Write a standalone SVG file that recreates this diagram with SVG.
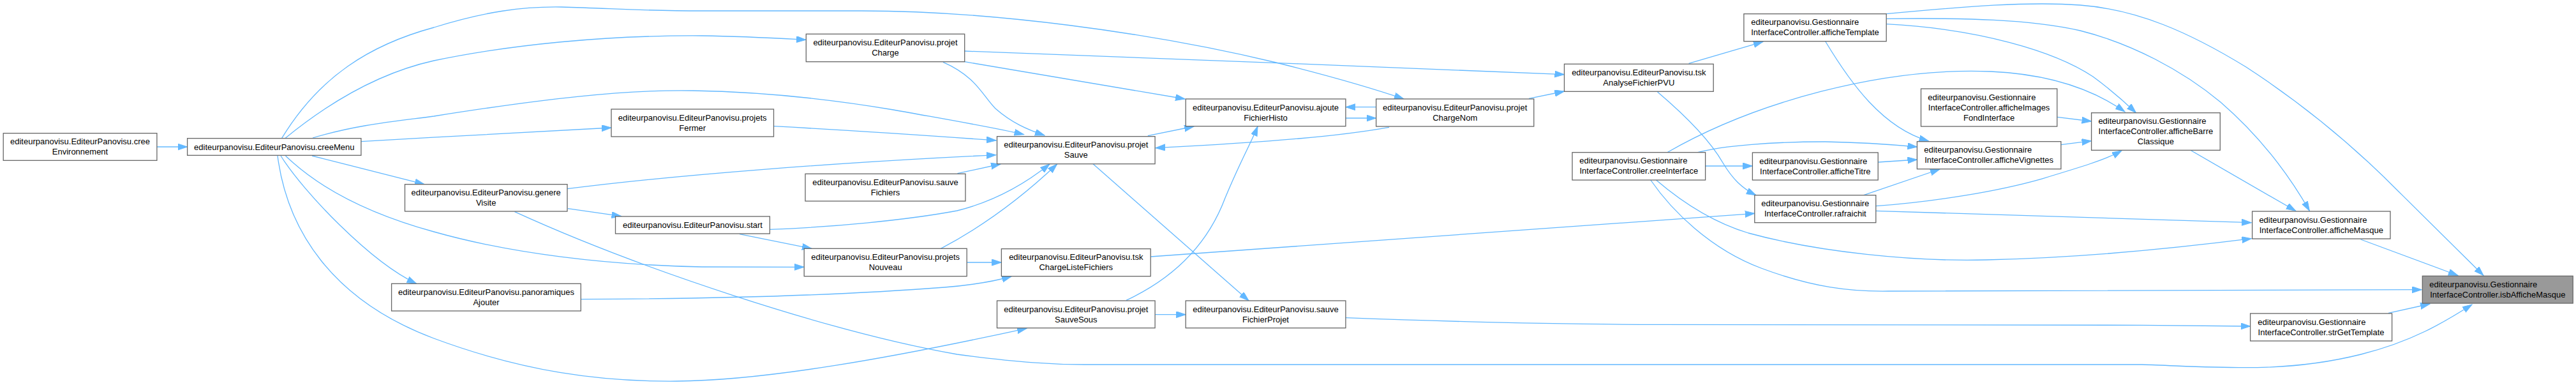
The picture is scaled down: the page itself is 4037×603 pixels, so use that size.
<svg xmlns="http://www.w3.org/2000/svg" width="4037" height="603" viewBox="0 0 4037 603">
<style>
.n rect{fill:#ffffff;stroke:#666666;stroke-width:1.3}
.hl rect{fill:#999999}
text{font-family:"Liberation Sans",Arial,Helvetica,sans-serif;font-size:13px;fill:#000000}
.m{text-anchor:middle}
.s{text-anchor:start}
#edges path{fill:none;stroke:#63b8ff;stroke-width:1.3;marker-end:url(#ah)}
</style>
<defs>
<marker id="ah" markerWidth="16" markerHeight="11" refX="15" refY="5" orient="auto" markerUnits="userSpaceOnUse">
<path d="M0,0 L15,5 L0,10 Z" fill="#63b8ff" stroke="#63b8ff" stroke-width="1"/>
</marker>
</defs>
<rect width="4037" height="603" fill="#ffffff"/>
<g id="edges">
<path d="M245.9,230 L293.6,230"/>
<path d="M441.5,216.7 C500,120 580,70 680,43 C760,18 820,10 880,11 C960,13 1000,17 1100,17 L1350,17 C1550,17 1800,50 2000,98 C2080,118 2150,138 2200,155"/>
<path d="M446.7,216.7 C510,165 590,115 680,95 C800,70 950,55 1100,56 C1170,57 1220,60 1263,62.3"/>
<path d="M490,216 C560,195 620,190 680,182 C850,155 980,140 1086,142 C1200,144 1300,155 1400,172 C1500,190 1560,200 1604.5,210.7"/>
<path d="M565.9,221.7 C700,214 850,205 958,200"/>
<path d="M489,244 L665,288.7"/>
<path d="M447.5,244 C490,285 560,330 680,363 C800,397 950,415 1100,418 L1260,418.3"/>
<path d="M440,244 C475,300 580,410 652.7,444.3"/>
<path d="M435,244 C450,360 520,470 680,530 C820,582 940,598 1060,597 C1200,596 1400,560 1609,514.3"/>
<path d="M1212.5,197.7 C1350,205 1450,212 1561,220"/>
<path d="M889,295.7 C1050,275 1300,255 1561,242.7"/>
<path d="M890,326.7 L973.6,338.7"/>
<path d="M806.6,331.7 C1000,420 1300,520 1500,555 C1600,568 1650,571 1700,571 L3357,571 C3480,575 3580,585 3700,555 C3780,535 3830,505 3874,477"/>
<path d="M1206.4,359.3 C1300,356 1420,345 1500,330 C1560,315 1610,285 1645,257"/>
<path d="M1159,366.7 L1272,389.3"/>
<path d="M1474.4,389.3 C1530,360 1590,320 1656.6,257"/>
<path d="M1515.2,411 L1569.4,411"/>
<path d="M1500.5,271.7 L1568,257"/>
<path d="M910.3,468.7 C1150,468 1350,460 1480,450 C1530,446 1560,440 1585,433"/>
<path d="M1478,97.3 C1530,120 1540,150 1560,170 C1585,192 1610,203 1637,212"/>
<path d="M1511.7,96.7 L1857,155"/>
<path d="M1511.7,80 C1800,92 2150,103 2451.5,116.7"/>
<path d="M1798.8,212.7 L1871,198"/>
<path d="M1713,256.7 L1957,471"/>
<path d="M2177,199.3 C2100,213 2000,222 1811,231.7"/>
<path d="M2108.9,185 L2156.6,185"/>
<path d="M2156.6,167.7 L2108.9,167.7"/>
<path d="M1765,470.3 C1830,440 1890,390 1920,310 C1945,250 1960,225 1971,198"/>
<path d="M1810.1,492.7 L1858.2,492.7"/>
<path d="M2396,154.3 L2451.5,143"/>
<path d="M2646.6,99.3 L2763,65.3"/>
<path d="M2597.6,144 C2640,180 2680,220 2700,255 C2715,280 2730,295 2752,305.7"/>
<path d="M2612.8,238.7 C2750,160 2950,105 3120,112 C3210,116 3280,140 3330,175"/>
<path d="M2660.5,238.7 C2700,228 2780,222 2860,222 C2920,223 2960,226 3004.4,230"/>
<path d="M2672.6,260 L2746.4,260"/>
<path d="M2595.5,282 C2640,320 2690,350 2740,365 C2850,395 3000,410 3113,407 C3250,404 3400,390 3528.3,373.7"/>
<path d="M2586.8,282 C2620,330 2680,390 2760,420 C2840,450 2900,457 2960,456 L3795,453.7"/>
<path d="M1803.2,402 L2749.8,334.3"/>
<path d="M2920.7,305.7 L3040,265"/>
<path d="M2939.8,322.7 C3030,316 3130,300 3200,280 C3260,262 3300,250 3325,236"/>
<path d="M2939.8,330.3 C3150,336 3350,342 3528.3,348.7"/>
<path d="M2943.2,254 L3004.4,250"/>
<path d="M2860.8,65 C2900,130 2950,200 3022.6,221"/>
<path d="M2956.2,37.7 C3100,45 3220,80 3280,120 C3310,142 3330,160 3347.5,176.7"/>
<path d="M2956.2,29.3 C3080,28 3180,30 3260,48 C3340,68 3420,110 3480,160 C3540,212 3585,270 3619.4,330.3"/>
<path d="M2956.2,21.7 C3080,10 3180,2 3260,8 C3350,15 3430,50 3520,105 C3620,170 3700,240 3760,301 C3810,350 3860,400 3892,431.5"/>
<path d="M3223.8,183.3 L3277.6,190"/>
<path d="M3229.9,226.7 L3277.6,220.7"/>
<path d="M3432.9,235.3 L3597.7,330.3"/>
<path d="M3699.6,375 L3852,431.5"/>
<path d="M3743,490.3 L3808,476"/>
<path d="M2108.9,497.7 C2250,503 2400,508 2600,508.3 L3357,509.3 C3420,510 3480,510.5 3526.6,511"/>
</g>
<g id="creeEnvironnement" class="n"><rect x="5.2" y="208.7" width="240.7" height="42.6"/><text class="m" x="125.5" y="226.2">editeurpanovisu.EditeurPanovisu.cree</text><text class="m" x="125.5" y="242.2">Environnement</text></g>
<g id="creeMenu" class="n"><rect x="293.6" y="216.7" width="272.3" height="26.6"/><text class="m" x="429.8" y="234.7">editeurpanovisu.EditeurPanovisu.creeMenu</text></g>
<g id="projetCharge" class="n"><rect x="1263.3" y="53.3" width="248.4" height="43.4"/><text class="m" x="1387.5" y="70.8">editeurpanovisu.EditeurPanovisu.projet</text><text class="m" x="1387.5" y="86.8">Charge</text></g>
<g id="projetsFermer" class="n"><rect x="958" y="171" width="254.5" height="43"/><text class="m" x="1085.2" y="188.5">editeurpanovisu.EditeurPanovisu.projets</text><text class="m" x="1085.2" y="204.5">Fermer</text></g>
<g id="genereVisite" class="n"><rect x="634.5" y="288.7" width="254.5" height="42.3"/><text class="m" x="761.7" y="306.2">editeurpanovisu.EditeurPanovisu.genere</text><text class="m" x="761.7" y="322.2">Visite</text></g>
<g id="start" class="n"><rect x="964.5" y="339" width="241.9" height="27"/><text class="m" x="1085.5" y="357">editeurpanovisu.EditeurPanovisu.start</text></g>
<g id="panoramiquesAjouter" class="n"><rect x="613.6" y="444.3" width="296.7" height="42.7"/><text class="m" x="762" y="461.8">editeurpanovisu.EditeurPanovisu.panoramiques</text><text class="m" x="762" y="477.8">Ajouter</text></g>
<g id="projetsNouveau" class="n"><rect x="1260.2" y="389.3" width="255" height="43.4"/><text class="m" x="1387.7" y="406.8">editeurpanovisu.EditeurPanovisu.projets</text><text class="m" x="1387.7" y="422.8">Nouveau</text></g>
<g id="sauveFichiers" class="n"><rect x="1262" y="272.3" width="251" height="42.7"/><text class="m" x="1387.5" y="289.8">editeurpanovisu.EditeurPanovisu.sauve</text><text class="m" x="1387.5" y="305.8">Fichiers</text></g>
<g id="projetSauve" class="n"><rect x="1562.5" y="213.7" width="247.6" height="43"/><text class="m" x="1686.3" y="231.2">editeurpanovisu.EditeurPanovisu.projet</text><text class="m" x="1686.3" y="247.2">Sauve</text></g>
<g id="ajouteFichierHisto" class="n"><rect x="1858.2" y="155" width="250.7" height="42.7"/><text class="m" x="1983.5" y="172.5">editeurpanovisu.EditeurPanovisu.ajoute</text><text class="m" x="1983.5" y="188.5">FichierHisto</text></g>
<g id="projetChargeNom" class="n"><rect x="2156.6" y="155" width="247.2" height="43"/><text class="m" x="2280.2" y="172.5">editeurpanovisu.EditeurPanovisu.projet</text><text class="m" x="2280.2" y="188.5">ChargeNom</text></g>
<g id="tskAnalyseFichierPVU" class="n"><rect x="2451.5" y="100.3" width="233.7" height="43"/><text class="m" x="2568.3" y="117.8">editeurpanovisu.EditeurPanovisu.tsk</text><text class="m" x="2568.3" y="133.8">AnalyseFichierPVU</text></g>
<g id="tskChargeListeFichiers" class="n"><rect x="1569.4" y="389.7" width="233.8" height="43"/><text class="m" x="1686.3" y="407.2">editeurpanovisu.EditeurPanovisu.tsk</text><text class="m" x="1686.3" y="423.2">ChargeListeFichiers</text></g>
<g id="projetSauveSous" class="n"><rect x="1562.5" y="471" width="247.6" height="42.7"/><text class="m" x="1686.3" y="488.5">editeurpanovisu.EditeurPanovisu.projet</text><text class="m" x="1686.3" y="504.5">SauveSous</text></g>
<g id="sauveFichierProjet" class="n"><rect x="1858.2" y="471" width="250.7" height="42.7"/><text class="m" x="1983.5" y="488.5">editeurpanovisu.EditeurPanovisu.sauve</text><text class="m" x="1983.5" y="504.5">FichierProjet</text></g>
<g id="creeInterface" class="n"><rect x="2464" y="238.7" width="208.6" height="43.3"/><text class="s" x="2475.3" y="256.2">editeurpanovisu.Gestionnaire</text><text class="m" x="2568.3" y="272.2">InterfaceController.creeInterface</text></g>
<g id="afficheTemplate" class="n"><rect x="2732.9" y="21.7" width="223.3" height="43"/><text class="s" x="2744.2" y="39.2">editeurpanovisu.Gestionnaire</text><text class="m" x="2844.5" y="55.2">InterfaceController.afficheTemplate</text></g>
<g id="afficheImagesFondInterface" class="n"><rect x="3010.5" y="139" width="213.3" height="59"/><text class="s" x="3021.3" y="156.5">editeurpanovisu.Gestionnaire</text><text class="m" x="3117.1" y="172.5">InterfaceController.afficheImages</text><text class="m" x="3117.1" y="188.5">FondInterface</text></g>
<g id="afficheBarreClassique" class="n"><rect x="3277.6" y="176.7" width="201.7" height="58.6"/><text class="s" x="3288.4" y="194.2">editeurpanovisu.Gestionnaire</text><text class="m" x="3378.4" y="210.2">InterfaceController.afficheBarre</text><text class="m" x="3378.4" y="226.2">Classique</text></g>
<g id="afficheVignettes" class="n"><rect x="3004.4" y="221.7" width="225.5" height="43"/><text class="s" x="3015.2" y="239.2">editeurpanovisu.Gestionnaire</text><text class="m" x="3117.1" y="255.2">InterfaceController.afficheVignettes</text></g>
<g id="afficheTitre" class="n"><rect x="2746.4" y="239" width="196.8" height="43"/><text class="s" x="2757.2" y="256.5">editeurpanovisu.Gestionnaire</text><text class="m" x="2844.8" y="272.5">InterfaceController.afficheTitre</text></g>
<g id="rafraichit" class="n"><rect x="2749.8" y="305.7" width="190" height="43"/><text class="m" x="2844.8" y="323.2">editeurpanovisu.Gestionnaire</text><text class="m" x="2844.8" y="339.2">InterfaceController.rafraichit</text></g>
<g id="afficheMasque" class="n"><rect x="3529.6" y="331" width="216.4" height="43"/><text class="s" x="3540.4" y="348.5">editeurpanovisu.Gestionnaire</text><text class="m" x="3637.8" y="364.5">InterfaceController.afficheMasque</text></g>
<g id="isbAfficheMasque" class="n hl"><rect x="3796.3" y="432.3" width="235.9" height="42.7"/><text class="s" x="3807.2" y="449.8">editeurpanovisu.Gestionnaire</text><text class="m" x="3914.3" y="465.8">InterfaceController.isbAfficheMasque</text></g>
<g id="strGetTemplate" class="n"><rect x="3526.6" y="491" width="222" height="43"/><text class="s" x="3538.3" y="508.5">editeurpanovisu.Gestionnaire</text><text class="m" x="3637.6" y="524.5">InterfaceController.strGetTemplate</text></g>
</svg>
